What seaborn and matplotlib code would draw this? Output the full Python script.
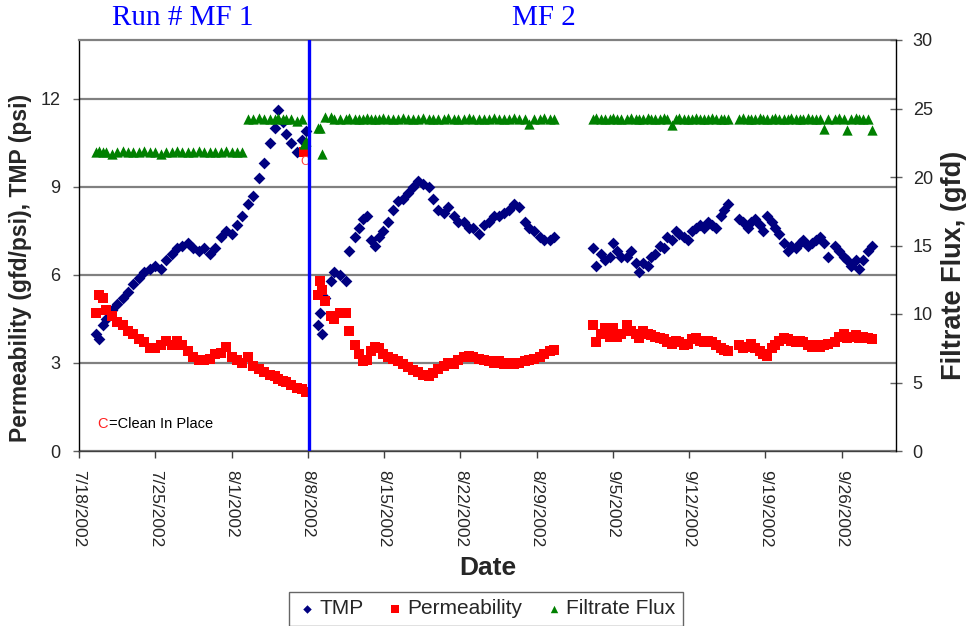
import matplotlib
matplotlib.use("Agg")
import matplotlib.pyplot as plt
import seaborn as sns
import pandas as pd
import numpy as np

# ---------------- data (days after 7/18/2002) ----------------
start_date = "2002-07-18"

mf1_days = [1.6, 1.8, 2.2, 2.5, 3.0, 3.5, 4.0, 4.5, 5.0, 5.5, 6.0, 6.5, 7.0, 7.5,
            8.0, 8.5, 9.0, 9.5, 10.0, 10.5, 11.0, 11.5, 12.0, 12.5, 13.0, 13.5,
            14.0, 14.5, 15.0, 15.5, 16.0, 16.5, 17.0, 17.5, 18.0, 18.3, 18.7,
            19.0, 19.5, 20.0, 20.5, 20.8]
mf1_tmp = [4.0, 3.8, 4.3, 4.5, 4.8, 5.0, 5.2, 5.4, 5.7, 5.9, 6.1, 6.2, 6.3, 6.2,
           6.5, 6.7, 6.9, 7.0, 7.1, 6.9, 6.8, 6.9, 6.7, 6.9, 7.3, 7.5, 7.4, 7.7,
           8.0, 8.4, 8.7, 9.3, 9.8, 10.5, 11.0, 11.6, 11.2, 10.8, 10.5, 10.2,
           10.6, 10.9]
mf1_perm = [4.7, 5.3, 5.2, 4.8, 4.6, 4.4, 4.3, 4.1, 4.0, 3.8, 3.7, 3.5, 3.5, 3.6,
            3.75, 3.6, 3.75, 3.6, 3.4, 3.2, 3.1, 3.1, 3.15, 3.3, 3.35, 3.55, 3.2,
            3.1, 3.0, 3.2, 2.9, 2.8, 2.7, 2.6, 2.55, 2.45, 2.4, 2.35, 2.25, 2.15,
            2.1, 2.0]
mf1_flux = [21.8, 21.9, 21.8, 21.8, 21.7, 21.8, 21.9, 21.8, 21.8, 21.8, 21.9,
            21.8, 21.8, 21.7, 21.8, 21.8, 21.9, 21.8, 21.8, 21.8, 21.9, 21.8,
            21.8, 21.8, 21.8, 21.9, 21.8, 21.8, 21.8, 24.2, 24.2, 24.3, 24.2,
            24.2, 24.2, 24.3, 24.2, 24.2, 24.2, 24.1, 24.2, 22.6]

mf2_days = [21.9, 22.15, 22.3, 22.6, 23.1, 23.45, 24.0, 24.5, 24.8, 25.3, 25.7,
            26.1, 26.4, 26.8, 27.2, 27.5, 27.9, 28.4, 28.8, 29.3, 29.75, 30.2,
            30.7, 31.1, 31.6, 32.1, 32.5, 33.0, 33.5, 33.9, 34.4, 34.8, 35.3,
            35.8, 36.2, 36.7, 37.2, 37.6, 38.1, 38.6, 39.0, 39.5, 39.9, 40.4,
            40.9, 41.3, 41.8, 42.3, 42.7, 43.2, 43.65,
            47.2, 47.5, 47.9, 48.3, 48.7, 49.0, 49.4, 49.8,
            50.3, 50.7, 51.1, 51.4, 51.8, 52.2, 52.5, 52.9, 53.3, 53.7, 54.0,
            54.4, 54.8, 55.1, 55.5, 55.9, 56.3, 56.6, 57.0, 57.4, 57.7, 58.1,
            58.5, 58.9, 59.2, 59.6,
            60.6, 61.0, 61.4, 61.7, 62.1, 62.5, 62.8, 63.2, 63.6, 63.9, 64.3,
            64.7, 65.1, 65.4, 65.8, 66.2, 66.5, 66.9, 67.3, 67.7, 68.0, 68.4,
            68.8,
            69.4, 69.8, 70.2, 70.5, 70.9, 71.3, 71.6, 72.0, 72.4, 72.8]
mf2_tmp = [4.3, 4.7, 4.0, 5.2, 5.8, 6.1, 6.0, 5.8, 6.8, 7.3,
           7.6, 7.9, 8.0, 7.2, 7.0, 7.3, 7.5, 7.8, 8.2, 8.5,
           8.6, 8.8, 9.0, 9.2, 9.1, 9.0, 8.6, 8.2, 8.1, 8.3,
           8.0, 7.8, 7.8, 7.6, 7.6, 7.4, 7.7, 7.8, 8.0, 8.0,
           8.1, 8.2, 8.4, 8.3, 7.8, 7.6, 7.5, 7.3, 7.2, 7.2, 7.3,
           6.9, 6.3, 6.7, 6.5, 6.6, 7.1, 6.8, 6.6,
           6.6, 6.8, 6.4, 6.1, 6.4, 6.3, 6.6, 6.7, 7.0, 6.9,
           7.3, 7.2, 7.5, 7.4, 7.3, 7.2, 7.5, 7.6, 7.7, 7.6,
           7.8, 7.7, 7.6, 8.0, 8.2, 8.4,
           7.9, 7.8, 7.6, 7.8, 7.9, 7.7, 7.5, 8.0, 7.8, 7.6,
           7.4, 7.1, 6.8, 7.0, 6.9, 7.1, 7.2, 7.0, 7.1, 7.2,
           7.3, 7.1, 6.6,
           7.0, 6.8, 6.6, 6.5, 6.3, 6.5, 6.2, 6.5, 6.8, 7.0]
mf2_perm = [5.3, 5.8, 5.5, 5.1, 4.6, 4.5, 4.7, 4.7, 4.1, 3.6,
            3.3, 3.05, 3.1, 3.4, 3.55, 3.5, 3.3, 3.2, 3.15, 3.05,
            2.95, 2.85, 2.75, 2.7, 2.6, 2.55, 2.65, 2.8, 2.9, 3.0,
            2.95, 3.1, 3.2, 3.25, 3.2, 3.15, 3.1, 3.05, 3.0, 3.05,
            2.95, 3.0, 2.95, 3.0, 3.05, 3.1, 3.15, 3.2, 3.3, 3.4, 3.45,
            4.3, 3.7, 4.0, 4.2, 3.9, 4.2, 3.9, 4.0,
            4.3, 4.1, 4.0, 3.85, 4.1, 4.0, 3.95, 3.9, 3.85, 3.8,
            3.7, 3.65, 3.75, 3.7, 3.6, 3.65, 3.8, 3.85, 3.75, 3.7,
            3.75, 3.7, 3.6, 3.5, 3.45, 3.4,
            3.6, 3.5, 3.55, 3.65, 3.5, 3.4, 3.3, 3.25, 3.5, 3.6,
            3.75, 3.85, 3.8, 3.75, 3.7, 3.75, 3.7, 3.6, 3.55, 3.6,
            3.55, 3.6, 3.65,
            3.7, 3.9, 4.0, 3.85, 3.9, 3.95, 3.85, 3.9, 3.85, 3.8]
mf2_flux = [23.6, 23.6, 21.7, 24.4, 24.4, 24.2, 24.2, 24.2, 24.3, 24.2,
            24.2, 24.2, 24.3, 24.2, 24.2, 24.2, 24.3, 24.2, 24.2, 24.2,
            24.3, 24.2, 24.2, 24.2, 24.3, 24.2, 24.2, 24.2, 24.2, 24.3,
            24.2, 24.2, 24.2, 24.3, 24.2, 24.2, 24.2, 24.2, 24.3, 24.2,
            24.2, 24.2, 24.3, 24.2, 24.2, 23.9, 24.2, 24.2, 24.3, 24.2, 24.2,
            24.2, 24.3, 24.2, 24.2, 24.2, 24.3, 24.2, 24.2,
            24.2, 24.3, 24.2, 24.2, 24.2, 24.3, 24.2, 24.2, 24.2, 24.3,
            24.2, 23.8, 24.2, 24.3, 24.2, 24.2, 24.2, 24.3, 24.2, 24.2,
            24.2, 24.3, 24.2, 24.2, 24.2, 24.2,
            24.2, 24.3, 24.2, 24.2, 24.2, 24.3, 24.2, 24.2, 24.2, 24.3,
            24.2, 24.2, 24.2, 24.3, 24.2, 24.2, 24.2, 24.3, 24.2, 24.2,
            24.2, 23.5, 24.2,
            24.2, 24.3, 24.2, 23.4, 24.2, 24.3, 24.2, 24.2, 24.2, 23.4]

# points right after the clean-in-place
cip_days = [20.65]
cip_perm = [10.2]
cip_flux_days = [20.7]
cip_flux = [22.4]

tick_labels = ["7/18/2002", "7/25/2002", "8/1/2002", "8/8/2002", "8/15/2002",
               "8/22/2002", "8/29/2002", "9/5/2002", "9/12/2002", "9/19/2002",
               "9/26/2002"]
run_split = "2002-08-08 02:00"
x_limits = ["2002-07-18", "2002-10-01"]

# ---------------- build frames ----------------
t0 = pd.Timestamp(start_date)
def to_dates(days):
    return t0 + pd.to_timedelta(np.asarray(days, dtype=float), unit="D")

tmp_df = pd.DataFrame({"date": np.concatenate([to_dates(mf1_days), to_dates(mf2_days)]),
                       "value": mf1_tmp + mf2_tmp})
perm_df = pd.DataFrame({"date": np.concatenate([to_dates(mf1_days), to_dates(mf2_days),
                                                to_dates(cip_days)]),
                        "value": mf1_perm + mf2_perm + cip_perm})
flux_df = pd.DataFrame({"date": np.concatenate([to_dates(mf1_days), to_dates(mf2_days),
                                                to_dates(cip_flux_days)]),
                        "value": mf1_flux + mf2_flux + cip_flux})

# ---------------- figure ----------------
sns.set_theme(style="white")
plt.rcParams["font.family"] = ["Liberation Sans", "DejaVu Sans"]

W, H = 972, 626
fig = plt.figure(figsize=(W / 100, H / 100), dpi=100)
L, R, T, B = 79, 896, 40, 451
ax = fig.add_axes([L / W, (H - B) / H, (R - L) / W, (B - T) / H])
ax2 = ax.twinx()

navy, red, green, blue = "#000080", "#ff0000", "#008000", "#0000ff"

sns.scatterplot(data=tmp_df, x="date", y="value", ax=ax, marker="D", s=36,
                color=navy, linewidth=0, label="TMP", zorder=3)
sns.scatterplot(data=perm_df, x="date", y="value", ax=ax, marker="s", s=55,
                color=red, linewidth=0, label="Permeability", zorder=3)
sns.scatterplot(data=flux_df, x="date", y="value", ax=ax2, marker="^", s=55,
                color=green, linewidth=0, label="Filtrate Flux", zorder=3)

# axes ranges / ticks
ax.set_xlim(pd.Timestamp(x_limits[0]), pd.Timestamp(x_limits[1]))
tick_dates = [pd.Timestamp(s) for s in tick_labels]
ax.set_xticks(tick_dates)
ax.set_xticklabels(tick_labels, rotation=270, fontsize=12.5)
ax.set_ylim(0, 14)
ax.set_yticks([0, 3, 6, 9, 12])
ax2.set_ylim(0, 30)
ax2.set_yticks([0, 5, 10, 15, 20, 25, 30])

ax.yaxis.grid(True, color="#808080", linewidth=1.6)
ax.xaxis.grid(False)
ax.set_axisbelow(True)

ax.tick_params(axis="x", direction="out", length=5, width=1, pad=9,
               color="#404040", bottom=True)
ax.tick_params(axis="y", direction="out", length=4.5, width=1, pad=9,
               labelsize=13, color="#606060", left=True)
ax2.tick_params(axis="y", direction="inout", length=9, width=1, pad=7.5,
                labelsize=13, color="#606060", right=True)

for a in (ax, ax2):
    for sp in a.spines.values():
        sp.set_linewidth(1.0)
ax.spines["left"].set_color("black")
ax.spines["bottom"].set_color("#404040")
ax.spines["top"].set_color("#808080")
ax.spines["top"].set_linewidth(1.6)
ax.spines["right"].set_visible(False)
ax2.spines["right"].set_color("black")
for k in ("left", "bottom", "top"):
    ax2.spines[k].set_visible(False)

# labels
ax.set_xlabel("Date", fontsize=19, fontweight="bold")
ax.xaxis.set_label_coords(0.5, -0.255)
ax.set_ylabel("Permeability (gfd/psi), TMP (psi)", fontsize=16.5, fontweight="bold")
ax.yaxis.set_label_coords(-0.058, 0.445)
ax2.set_ylabel("Filtrate Flux, (gfd)", fontsize=19.5, fontweight="bold")
ax2.yaxis.set_label_coords(1.0545, 0.4526)

# run split line
ax2.axvline(pd.Timestamp(run_split), color=blue, linewidth=2.4, zorder=5)

# annotations
ax.text(pd.Timestamp(start_date) + pd.Timedelta(days=20.7), 9.85, "C",
        color="#ff4040", fontsize=9, ha="center", va="center", zorder=6)
fig.text(97 / W, 1 - 424 / H, "C", color="#ff2020", fontsize=10.5,
         ha="left", va="center")
fig.text(108.5 / W, 1 - 424 / H, "=Clean In Place", color="black", fontsize=10.5,
         ha="left", va="center")
fig.text(183 / W, 1 - 18 / H, "Run # MF 1", color=blue, fontsize=21,
         family=["Liberation Serif", "DejaVu Serif"], ha="center", va="center")
fig.text(544 / W, 1 - 18 / H, "MF 2", color=blue, fontsize=21,
         family=["Liberation Serif", "DejaVu Serif"], ha="center", va="center")

# legend
h1, l1 = ax.get_legend_handles_labels()
h2, l2 = ax2.get_legend_handles_labels()
for a in (ax, ax2):
    if a.get_legend() is not None:
        a.get_legend().remove()
leg = fig.legend(h1 + h2, l1 + l2, loc="upper center",
                 bbox_to_anchor=(0.5, 1 - 592 / H), borderaxespad=0.0,
                 ncol=3, fontsize=15,
                 frameon=True, fancybox=False, edgecolor="#404040",
                 handletextpad=0.1, columnspacing=1.0, borderpad=0.35,
                 markerscale=0.72, handlelength=1.0)
leg.get_frame().set_linewidth(1.0)

fig.savefig("out.png", dpi=100, facecolor="white")
